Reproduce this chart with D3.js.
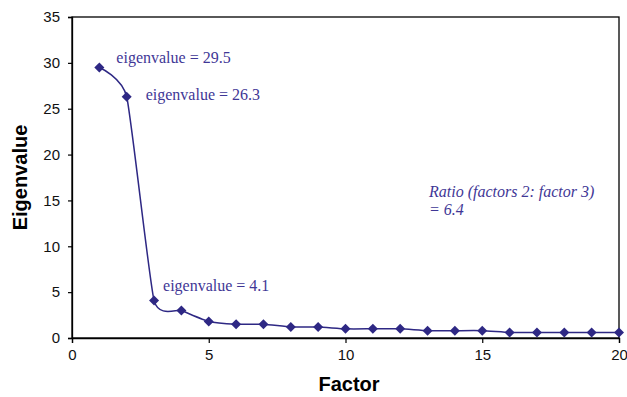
<!DOCTYPE html>
<html>
<head>
<meta charset="utf-8">
<script src="https://cdn.jsdelivr.net/npm/d3@7"></script>
<style>
  body { margin: 0; background: #fff; }
</style>
</head>
<body>
<svg id="chart" width="627" height="397"></svg>
<script>
// scree plot data
var factors = [1,2,3,4,5,6,7,8,9,10,11,12,13,14,15,16,17,18,19,20];
var eigenvalues = [29.5,26.3,4.1,3.0,1.8,1.5,1.5,1.2,1.2,1.0,1.0,1.0,0.8,0.8,0.8,0.6,0.6,0.6,0.6,0.6];
var xTicks = [0,5,10,15,20];
var yTicks = [0,5,10,15,20,25,30,35];
var notes = [
  {x: 1, y: 29.5, text: "eigenvalue = 29.5"},
  {x: 2, y: 26.3, text: "eigenvalue = 26.3"},
  {x: 3, y: 4.1, text: "eigenvalue = 4.1"}
];
// pixel offsets of each note from its marker
var noteOffsets = [[17, -4], [19, 3], [9, -9]];

var lineColor = "#2e2884",
    textColor = "#3f3796",
    sans = "'Liberation Sans', Arial, sans-serif",
    serif = "'Liberation Serif', 'Times New Roman', serif";

var svg = d3.select('#chart');
var plotL = 72, plotR = 619, plotT = 17, plotB = 338;

var x = d3.scaleLinear().domain([0, 20]).range([plotL, plotR]);
var y = d3.scaleLinear().domain([0, 35]).range([plotB, plotT]);

// frame
svg.append("rect")
   .attr("x", plotL).attr("y", plotT)
   .attr("width", plotR - plotL).attr("height", plotB - plotT)
   .attr("fill", "none").attr("stroke", "#000").attr("stroke-width", 1.3);

var xAxis = svg.append("g")
   .attr("transform", "translate(0," + plotB + ")")
   .call(d3.axisBottom(x).tickValues(xTicks).tickSize(5).tickPadding(6));
var yAxis = svg.append("g")
   .attr("transform", "translate(" + plotL + ",0)")
   .call(d3.axisLeft(y).tickValues(yTicks).tickSize(4).tickPadding(8));

[xAxis, yAxis].forEach(function(a) {
  a.select(".domain").attr("stroke-width", 1.3);
  a.selectAll(".tick line").attr("stroke-width", 1.2);
  a.selectAll("text").attr("font-size", 15).attr("fill", "#111")
   .attr("font-family", sans);
});

// smoothed line like the original spreadsheet
var pts = factors.map(function(f, i) { return [f, eigenvalues[i]]; });
var line = d3.line()
   .x(function(d) { return x(d[0]); })
   .y(function(d) { return y(d[1]); })
   .curve(d3.curveCardinal.tension(0.5));

svg.append("path").datum(pts)
   .attr("d", line)
   .attr("fill", "none")
   .attr("stroke", lineColor)
   .attr("stroke-width", 1.5);

var diamond = d3.symbol().type(d3.symbolDiamond2).size(64);
svg.selectAll(".pt").data(pts).enter().append("path")
   .attr("class", "pt")
   .attr("d", diamond)
   .attr("transform", function(d) { return "translate(" + x(d[0]) + "," + y(d[1]) + ")"; })
   .attr("fill", lineColor);

// annotations
svg.selectAll(".note").data(notes).enter().append("text")
   .attr("class", "note")
   .attr("x", function(d, i) { return x(d.x) + noteOffsets[i][0]; })
   .attr("y", function(d, i) { return y(d.y) + noteOffsets[i][1]; })
   .attr("font-family", serif)
   .attr("font-size", 16)
   .attr("fill", textColor)
   .text(function(d) { return d.text; });

var ratio = svg.append("text")
   .attr("x", 429).attr("y", 197)
   .attr("font-family", serif)
   .attr("font-style", "italic")
   .attr("font-size", 16)
   .attr("fill", textColor);
ratio.append("tspan").attr("x", 429).text("Ratio (factors 2: factor 3)");
ratio.append("tspan").attr("x", 429).attr("dy", 18).text("= 6.4");

// axis titles
svg.append("text")
   .attr("x", 349).attr("y", 391)
   .attr("text-anchor", "middle")
   .attr("font-family", sans)
   .attr("font-weight", "bold").attr("font-size", 20)
   .text("Factor");
svg.append("text")
   .attr("transform", "translate(27," + ((plotT + plotB) / 2) + ") rotate(-90)")
   .attr("text-anchor", "middle")
   .attr("font-family", sans)
   .attr("font-weight", "bold").attr("font-size", 20)
   .text("Eigenvalue");
</script>
</body>
</html>
